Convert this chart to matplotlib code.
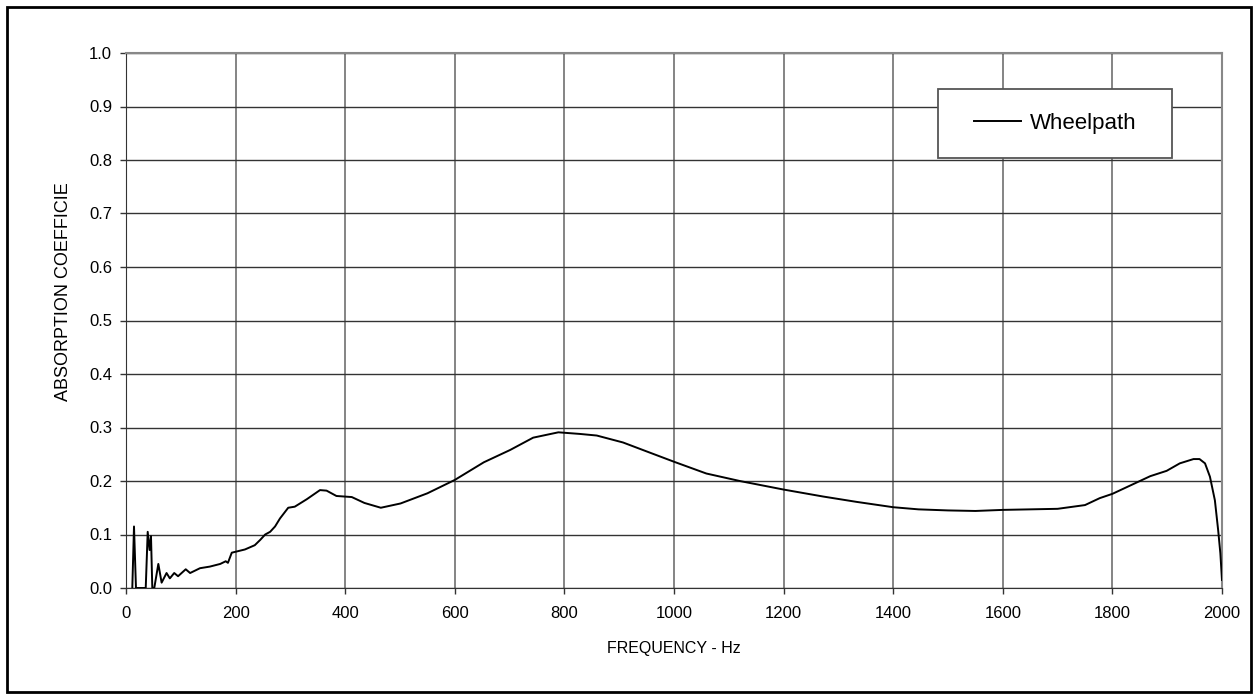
import numpy as np
import matplotlib
matplotlib.use('Agg')
import matplotlib.pyplot as plt
from matplotlib.patches import Rectangle

plt.rcParams['font.family'] = ['Liberation Sans', 'DejaVu Sans']

# values
freq = [11.5, 14.6, 18.2, 36, 39.6, 43, 45.6, 48, 51.6, 59, 65, 74, 80, 88, 95,
        109, 117, 135, 153, 172, 182, 186, 193, 217, 235, 245, 254, 263, 272,
        281, 296, 308, 330, 354, 366, 384, 412, 435, 465, 501, 550, 600, 653,
        701, 743, 789, 828, 859, 907, 956, 1000, 1059, 1120, 1200, 1272, 1333,
        1400, 1446, 1500, 1550, 1600, 1650, 1700, 1750, 1777, 1800, 1869, 1899,
        1923, 1948, 1959, 1969, 1978, 1987, 1993, 1997, 2000]
absorb = [0.0, 0.115, 0.0, 0.0, 0.105, 0.071, 0.097, 0.0, 0.0, 0.045, 0.01,
          0.028, 0.018, 0.028, 0.022, 0.035, 0.028, 0.037, 0.04, 0.045, 0.05,
          0.047, 0.066, 0.072, 0.08, 0.09, 0.1, 0.105, 0.115, 0.13, 0.15, 0.152,
          0.166, 0.183, 0.182, 0.172, 0.17, 0.159, 0.15, 0.158, 0.177, 0.202,
          0.235, 0.258, 0.281, 0.291, 0.288, 0.285, 0.272, 0.253, 0.236, 0.214,
          0.2, 0.184, 0.171, 0.161, 0.151, 0.147, 0.145, 0.144, 0.146, 0.147,
          0.148, 0.155, 0.168, 0.176, 0.209, 0.219, 0.233, 0.241, 0.241, 0.233,
          0.208, 0.164, 0.108, 0.065, 0.015]
series_name = 'Wheelpath'
xticks = np.arange(0, 2001, 200)
yticks = np.arange(0, 1.01, 0.1)

W, H = 1255, 698
fig = plt.figure(figsize=(W / 100, H / 100), dpi=100)
ax = fig.add_axes([126 / W, 1 - 588 / H, (1222 - 126) / W, (588 - 53) / H])

ax.plot(freq, absorb, color='black', lw=1.4, label=series_name, zorder=3)

ax.set_xlim(0, 2000)
ax.set_ylim(0, 1.0)
ax.set_xticks(xticks)
ax.set_yticks(yticks)
ax.set_yticklabels(['%.1f' % v for v in yticks])
ax.tick_params(axis='both', labelsize=12, direction='out', length=4, width=1, color='#333333')
ax.tick_params(axis='x', pad=9)
ax.tick_params(axis='y', pad=6)

##grid
ax.yaxis.grid(True, color='#333333', lw=1.0)
ax.xaxis.grid(True, color='#707070', lw=1.2)
ax.set_axisbelow(True)
for s in ['left', 'bottom']:
    ax.spines[s].set_color('#333333')
for s in ['top', 'right']:
    ax.spines[s].set_color('#888888')
    ax.spines[s].set_linewidth(1.5)

ax.set_xlabel('FREQUENCY - Hz', fontsize=11.5)
ax.xaxis.set_label_coords(0.5, (588 - 648) / 535)
ax.xaxis.label.set_va('center')
fig.text(63 / W, 1 - 292 / H, 'ABSORPTION COEFFICIE', rotation=90,
         ha='center', va='center', fontsize=13)

##legend box
ax.add_patch(Rectangle((938 / W, 1 - 158 / H), (1172 - 938) / W, (158 - 89) / H,
                       transform=fig.transFigure, facecolor='white',
                       edgecolor='#555555', lw=1.3, zorder=4, clip_on=False))
ax.legend(loc='center', bbox_to_anchor=(1055 / W, 1 - 123.5 / H),
          bbox_transform=fig.transFigure, frameon=False, fontsize=16,
          handlelength=2.1, handletextpad=0.4)

##outer frame
fig.patches.append(Rectangle((7 / W, 6 / H), (W - 4 - 7) / W, (H - 13) / H,
                             transform=fig.transFigure, fill=False,
                             edgecolor='black', lw=2))

plt.savefig('out.png', dpi=100)
